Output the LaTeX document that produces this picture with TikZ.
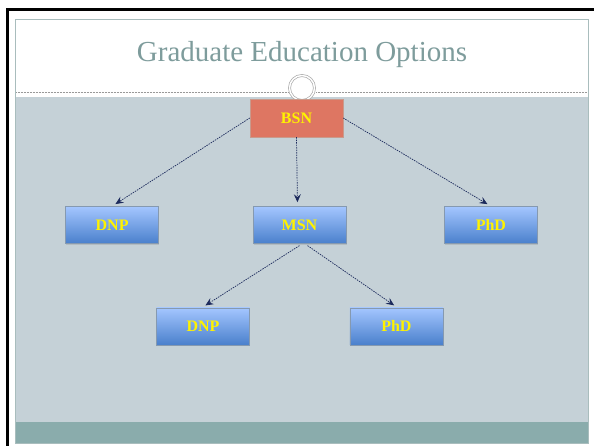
\documentclass[tikz,border=0pt]{standalone}
\usepackage{fontspec}
\setmainfont{Liberation Serif}
\usetikzlibrary{arrows.meta,positioning,shadows}

\definecolor{titlegray}{HTML}{7E9C9C}
\definecolor{framegray}{HTML}{A9BDBD}
\definecolor{bodygray}{HTML}{C5D1D7}
\definecolor{bandteal}{HTML}{8AACAC}
\definecolor{bsnred}{HTML}{DE7662}
\definecolor{bsnline}{HTML}{C99A8C}
\definecolor{boxtop}{HTML}{A4C6FF}
\definecolor{boxbot}{HTML}{4A80CC}
\definecolor{boxline}{HTML}{8599B0}
\definecolor{arrownavy}{HTML}{1C2A5C}

\begin{document}
\begin{tikzpicture}[x=1pt,y=-1pt,
  label font/.style={font=\bfseries\fontsize{16}{16}\selectfont,text=yellow},
  top node/.style={rectangle,draw=bsnline,fill=bsnred,minimum width=93pt,minimum height=38pt,label font},
  degree node/.style={rectangle,draw=boxline,top color=boxtop,bottom color=boxbot,
    minimum width=93pt,minimum height=37pt,label font,
    drop shadow={opacity=0.25,shadow xshift=0.6pt,shadow yshift=-1.2pt}},
  flow/.style={draw=arrownavy,-{Stealth[length=8pt,width=7pt,inset=3pt]},shorten >=4pt,
    dash pattern=on 1.5pt off 1pt,line width=0.7pt}]

  \useasboundingbox (0,0) rectangle (594,446);

  % slide
  \draw[line width=3pt] (7.5,446) -- (7.5,10) -- (594,10);
  \fill[white] (15,19) rectangle (588,443);
  \fill[bodygray] (15,97) rectangle (588,422);
  \fill[bandteal] (15,422) rectangle (588,443);
  \draw[framegray] (15,19) rectangle (588,443);
  \node[text=titlegray,font=\fontsize{29}{29}\selectfont] (title) at (302,55) {Graduate Education Options};
  \draw[gray!80,densely dotted,line width=0.5pt] (16,92) -- (288,92);
  \draw[gray!80,densely dotted,line width=0.5pt] (316,92) -- (587,92);
  \draw[gray!65,line width=0.7pt,double,double distance=1.4pt,fill=white] (302,88) circle (12.5);

  % degrees
  \node[top node] (bsn) at (296.5,118) {BSN};
  \node[degree node] (msn) [below=69pt of bsn,xshift=3pt] {MSN};
  \node[degree node] (dnp1) [left=94pt of msn] {DNP};
  \node[degree node] (phd1) [right=98pt of msn] {PhD};
  \node[degree node] (dnp2) [below=64pt of msn,xshift=-96.5pt] {DNP};
  \node[degree node] (phd2) [right=100pt of dnp2] {PhD};

  \path[every edge/.style=flow]
    (bsn.west) edge (dnp1.north)
    (bsn.south) edge ([xshift=-2pt]msn.north)
    (bsn.east) edge (phd1.north)
    ([yshift=-2pt]msn.south) edge ([xshift=-1pt]dnp2.north)
    ([xshift=8pt,yshift=-2pt]msn.south) edge ([xshift=1pt]phd2.north);

\end{tikzpicture}
\end{document}
